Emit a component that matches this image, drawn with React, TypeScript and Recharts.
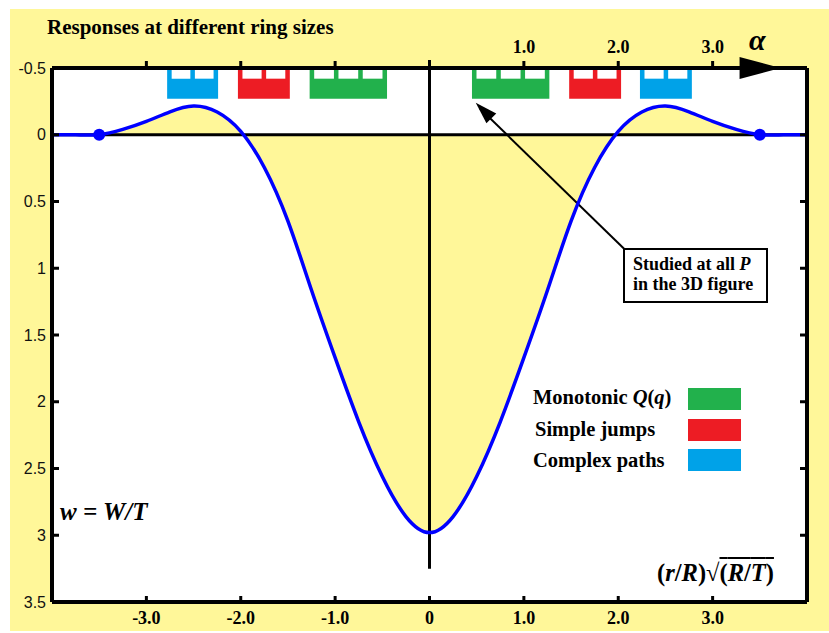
import { ComposedChart, Area, Line, XAxis, YAxis, ReferenceLine, ReferenceArea, ReferenceDot } from "recharts";

// w = W/T response curve
const xValues = [-4, -3.75, -3.5, -3.25, -3, -2.75, -2.5, -2.25, -2, -1.75, -1.5, -1.25, -1, -0.75, -0.5, -0.25, 0, 0.25, 0.5, 0.75, 1, 1.25, 1.5, 1.75, 2, 2.25, 2.5, 2.75, 3, 3.25, 3.5, 3.75, 4];
const wValues = [0, 0, 0, -0.04, -0.1, -0.172, -0.215, -0.17, -0.025, 0.245, 0.647, 1.165, 1.67, 2.15, 2.56, 2.86, 2.98, 2.86, 2.56, 2.15, 1.67, 1.165, 0.647, 0.245, -0.025, -0.17, -0.215, -0.172, -0.1, -0.04, 0, 0, 0];

const bottomTicks = [-3, -2, -1, 0, 1, 2, 3];
const topTicks = [-3, -2, -1, 1, 2, 3];
const yTicks = [-0.5, 0, 0.5, 1, 1.5, 2, 2.5, 3, 3.5];

// ring-size bands along the top
const bandStarts = [-2.78, -2.03, -1.27, 0.45, 1.48, 2.23];
const bandEnds = [-2.24, -1.48, -0.45, 1.27, 2.03, 2.78];
const bandKinds = [2, 1, 0, 0, 1, 2];
const bandSlots = [2, 2, 3, 3, 2, 2];

const legendLabels = ["Monotonic", "Simple jumps", "Complex paths"];
const legendColors = ["#22b14c", "#ed1c24", "#00a2e8"];

const endDots = [-3.5, 3.5];

const rows = xValues.map((x, i) => ({ x, w: wValues[i] }));

const BG = "#fff799";
const serif = "'Liberation Serif', 'Times New Roman', serif";
const sans = "'Liberation Sans', Arial, sans-serif";

const AxisArrow = (props: any) => {
  const { cx, cy } = props;
  return <polygon points={`${cx},${cy} ${cx - 41},${cy - 11} ${cx - 41},${cy + 11}`} fill="#000" />;
};

const PointerHead = (props: any) => {
  const { cx, cy } = props;
  return <polygon points={`${cx},${cy} ${cx + 20.5},${cy + 10.7} ${cx + 10.7},${cy + 20.5}`} fill="#000" />;
};

function bandWindows() {
  const gap = 0.048;
  const out: { x1: number; x2: number }[] = [];
  bandStarts.forEach((s, i) => {
    const n = bandSlots[i];
    const wWidth = (bandEnds[i] - s - (n + 1) * gap) / n;
    for (let k = 0; k < n; k++) {
      const x1 = s + gap + k * (wWidth + gap);
      out.push({ x1, x2: x1 + wWidth });
    }
  });
  return out;
}

export default function App() {
  const axisLine = { stroke: "#000", strokeWidth: 4 };
  const tickLine = { stroke: "#000", strokeWidth: 3 };
  const xTick = { fontFamily: serif, fontSize: 18, fontWeight: 700, fill: "#000" };
  const yTick = { fontFamily: sans, fontSize: 16, fill: "#111" };

  return (
    <div style={{ position: "relative", width: 829, height: 633 }}>
      <style>{"body{margin:0}"}</style>
      <div style={{ position: "absolute", left: 10, top: 9, width: 819, height: 622, background: BG }} />
      <div style={{ position: "absolute", left: 52, top: 68, width: 755, height: 534, background: "#fff" }} />

      <div style={{ position: "absolute", left: 0, top: 0 }}>
        <ComposedChart width={829} height={633} data={rows} margin={{ top: 0, right: 0, bottom: 0, left: 0 }}>
          <XAxis
            xAxisId="bottom"
            dataKey="x"
            type="number"
            domain={[-4, 4]}
            allowDataOverflow
            ticks={bottomTicks}
            interval={0}
            height={31}
            axisLine={axisLine}
            tickLine={tickLine}
            tickSize={-6}
            tickMargin={15}
            tick={xTick}
            tickFormatter={(v: number) => (v === 0 ? "0" : v.toFixed(1))}
          />
          <XAxis
            xAxisId="top"
            dataKey="x"
            orientation="top"
            type="number"
            domain={[-4, 4]}
            allowDataOverflow
            ticks={topTicks}
            interval={0}
            height={68}
            axisLine={axisLine}
            tickLine={tickLine}
            tickSize={7}
            tickMargin={8}
            tick={xTick}
            tickFormatter={(v: number) => (v > 0 ? v.toFixed(1) : "")}
          />
          <YAxis
            yAxisId="left"
            type="number"
            domain={[-0.5, 3.5]}
            allowDataOverflow
            reversed
            ticks={yTicks}
            interval={0}
            width={52}
            axisLine={axisLine}
            tickLine={tickLine}
            tickSize={-7}
            tickMargin={13}
            tick={yTick}
          />
          <YAxis
            yAxisId="right"
            orientation="right"
            type="number"
            domain={[-0.5, 3.5]}
            allowDataOverflow
            reversed
            ticks={yTicks}
            interval={0}
            width={22}
            axisLine={axisLine}
            tickLine={tickLine}
            tickSize={-7}
            tickFormatter={() => ""}
          />

          <Area
            xAxisId="bottom"
            yAxisId="left"
            dataKey="w"
            type="natural"
            baseValue={0}
            fill={BG}
            fillOpacity={1}
            stroke="none"
            isAnimationActive={false}
            zIndex={100}
          />

          {bandStarts.map((s, i) => (
            <ReferenceArea
              key={`band-${i}`}
              xAxisId="bottom"
              yAxisId="left"
              x1={s}
              x2={bandEnds[i]}
              y1={-0.5}
              y2={-0.27}
              fill={legendColors[bandKinds[i]]}
              fillOpacity={1}
              stroke="none"
              zIndex={200}
            />
          ))}
          {bandWindows().map((wdw, i) => (
            <ReferenceArea
              key={`win-${i}`}
              xAxisId="bottom"
              yAxisId="left"
              x1={wdw.x1}
              x2={wdw.x2}
              y1={-0.5}
              y2={-0.42}
              fill="#fff"
              fillOpacity={1}
              stroke="none"
              zIndex={210}
            />
          ))}

          <ReferenceLine xAxisId="bottom" yAxisId="left" y={0} stroke="#000" strokeWidth={3} zIndex={250} />
          <ReferenceLine
            xAxisId="bottom"
            yAxisId="left"
            segment={[{ x: 0, y: -0.56 }, { x: 0, y: 3.25 }]}
            stroke="#000"
            strokeWidth={3}
            ifOverflow="visible"
            zIndex={250}
          />
          <ReferenceLine
            xAxisId="bottom"
            yAxisId="left"
            segment={[{ x: 2.07, y: 0.86 }, { x: 0.53, y: -0.2 }]}
            stroke="#000"
            strokeWidth={2}
            ifOverflow="visible"
            zIndex={250}
          />
          <ReferenceDot xAxisId="bottom" yAxisId="left" x={0.49} y={-0.24} r={1} shape={PointerHead} ifOverflow="visible" zIndex={260} />

          <Line
            xAxisId="bottom"
            yAxisId="left"
            dataKey="w"
            type="natural"
            stroke="#0000ff"
            strokeWidth={3.5}
            dot={false}
            activeDot={false}
            isAnimationActive={false}
            zIndex={400}
          />
          {endDots.map((x) => (
            <ReferenceDot key={`dot-${x}`} xAxisId="bottom" yAxisId="left" x={x} y={0} r={6} fill="#0000ff" stroke="none" zIndex={600} />
          ))}
          <ReferenceDot xAxisId="bottom" yAxisId="left" x={3.72} y={-0.5} r={1} shape={AxisArrow} ifOverflow="visible" zIndex={700} />
        </ComposedChart>
      </div>

      <div style={{ position: "absolute", left: 47, top: 17, fontFamily: serif, fontWeight: 700, fontSize: 21, lineHeight: "21px", whiteSpace: "nowrap" }}>
        Responses at different ring sizes
      </div>
      <div style={{ position: "absolute", left: 749, top: 25, fontFamily: serif, fontWeight: 700, fontStyle: "italic", fontSize: 30, lineHeight: "30px" }}>
        α
      </div>
      <div style={{ position: "absolute", left: 60, top: 499, fontFamily: serif, fontWeight: 700, fontStyle: "italic", fontSize: 25, lineHeight: "25px", whiteSpace: "pre" }}>
        {"w = W/T"}
      </div>
      <div style={{ position: "absolute", left: 657, top: 561, fontFamily: serif, fontWeight: 700, fontSize: 24.5, lineHeight: "24px", whiteSpace: "nowrap" }}>
        (<i>r</i>/<i>R</i>)√<span style={{ textDecoration: "overline" }}>(<i>R</i>/<i>T</i>)</span>
      </div>

      <div
        style={{
          position: "absolute",
          left: 623,
          top: 248,
          width: 145,
          height: 55,
          boxSizing: "border-box",
          border: "2px solid #000",
          background: "#fff",
          padding: "4px 0 0 8px",
          fontFamily: serif,
          fontWeight: 700,
          fontSize: 18,
          lineHeight: "20px",
          whiteSpace: "nowrap",
        }}
      >
        <div>
          Studied at all <i>P</i>
        </div>
        <div>in the 3D figure</div>
      </div>

      {legendLabels.map((label, i) => (
        <div key={label}>
          <div
            style={{
              position: "absolute",
              left: i === 1 ? 535 : 533,
              top: 387 + i * 31.5,
              fontFamily: serif,
              fontWeight: 700,
              fontSize: 20.5,
              lineHeight: "20px",
              whiteSpace: "nowrap",
            }}
          >
            {label}
            {i === 0 ? (
              <>
                {" "}
                <i>Q</i>(<i>q</i>)
              </>
            ) : null}
          </div>
          <div style={{ position: "absolute", left: 688, top: 388 + i * 30.5, width: 53, height: 22, background: legendColors[i] }} />
        </div>
      ))}
    </div>
  );
}
